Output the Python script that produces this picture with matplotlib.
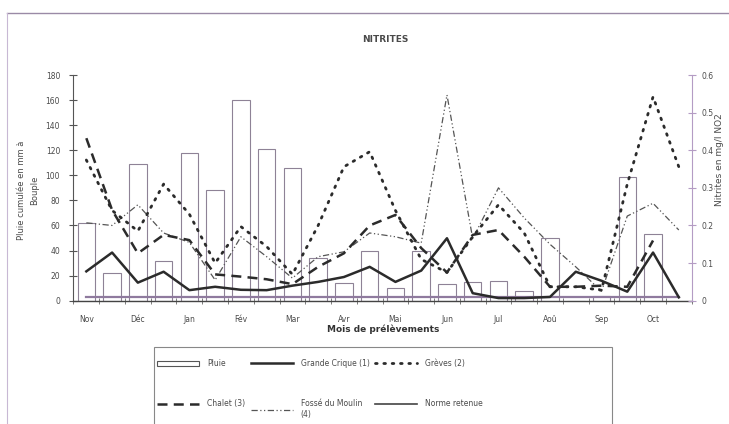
import numpy as np
import matplotlib.pyplot as plt
from matplotlib.lines import Line2D
from matplotlib.patches import Patch, Rectangle

TEXT = "#4a4a4a"
DARK = "#2b2b2b"
BAR_EDGE = "#8e8296"
PURPLE = "#b49cc4"

# two samplings per month, Nov -> Oct
months = ["Nov", "Déc", "Jan", "Fév", "Mar", "Avr", "Mai", "Jun", "Jul", "Aoû", "Sep", "Oct"]
pluie = [62, 22, 109, 32, 118, 88, 160, 121, 106, 34, 14, 40,
         10, 40, 13, 15, 16, 8, 50, 0, 4, 99, 53, 0]
grande_crique = [0.078, 0.128, 0.048, 0.077, 0.028, 0.037, 0.029, 0.028, 0.04, 0.05, 0.063, 0.09,
                 0.05, 0.08, 0.166, 0.02, 0.007, 0.007, 0.01, 0.077, 0.053, 0.024, 0.128, 0.009]
greves = [0.374, 0.24, 0.185, 0.31, 0.23, 0.1, 0.197, 0.144, 0.07, 0.2, 0.356, 0.396,
          0.24, 0.11, 0.075, 0.17, 0.255, 0.18, 0.037, 0.037, 0.028, 0.31, 0.542, 0.356]
chalet = [0.432, 0.241, 0.126, 0.175, 0.161, 0.07, 0.064, 0.057, 0.044, 0.09, 0.126, 0.2,
          0.228, 0.14, 0.075, 0.175, 0.188, 0.117, 0.037, 0.037, 0.04, 0.037, 0.16, np.nan]
fosse = [0.207, 0.2, 0.255, 0.18, 0.155, 0.055, 0.17, 0.117, 0.06, 0.117, 0.13, 0.18,
         0.17, 0.153, 0.547, 0.165, 0.30, 0.22, 0.15, 0.09, 0.025, 0.225, 0.259, 0.188]
norme_retenue = 0.01

fig = plt.figure(figsize=(7.29, 4.24), dpi=100)
ax = fig.add_axes([0.0997, 0.2908, 0.8491, 0.5323])
ax2 = ax.twinx()

x = np.arange(len(pluie))
ax.bar(x, pluie, width=0.68, facecolor="white", edgecolor=BAR_EDGE, linewidth=0.8)

ax2.plot(x, np.full(len(x), norme_retenue), color="#8f7a9e", lw=1.6)
ax2.plot(x, fosse, color="#555555", lw=0.9, linestyle=(0, (5, 2, 1, 2, 1, 2)))
ax2.plot(x, chalet, color=DARK, lw=1.8, linestyle=(0, (4, 2.5)))
ax2.plot(x, greves, color=DARK, lw=2.0, linestyle=(0, (0.6, 2.4)), dash_capstyle="round")
ax2.plot(x, grande_crique, color=DARK, lw=1.8)

ax.set_xlim(-0.53, 23.46)
ax.set_ylim(0, 180)
ax.set_yticks(np.arange(0, 181, 20))
ax2.set_ylim(0, 0.6)
ax2.set_yticks(np.arange(0, 0.61, 0.1))
ax2.set_yticklabels(["0", "0.1", "0.2", "0.3", "0.4", "0.5", "0.6"])

ax.set_xticks(x[::2])
ax.set_xticklabels(months)
ax.set_xticks(np.arange(-0.5, 24, 1), minor=True)
ax.tick_params(axis="x", which="major", length=0, pad=10, labelsize=5.5, labelcolor=TEXT)
ax.tick_params(axis="x", which="minor", direction="inout", length=5, width=0.6, color="#666666")
ax.tick_params(axis="y", direction="inout", length=6, width=0.8, color="#555555",
               labelsize=5.5, labelcolor=TEXT, pad=6)
ax2.tick_params(axis="y", direction="inout", length=6, width=0.8, color=PURPLE,
                labelsize=5.5, labelcolor=TEXT, pad=4)

for s in ["top", "right"]:
    ax.spines[s].set_visible(False)
for s in ["top", "left", "bottom"]:
    ax2.spines[s].set_visible(False)
ax.spines["left"].set_color("#555555")
ax.spines["left"].set_linewidth(0.8)
ax.spines["bottom"].set_color("#444444")
ax.spines["bottom"].set_linewidth(1.0)
ax2.spines["right"].set_color(PURPLE)
ax2.spines["right"].set_linewidth(0.8)

fig.text(385 / 729, 1 - 40 / 424, "NITRITES", ha="center", va="center",
         fontsize=6.5, fontweight="bold", color=TEXT)
fig.text(383 / 729, 1 - 329 / 424, "Mois de prélèvements", ha="center", va="center",
         fontsize=6.5, fontweight="bold", color="#333333")
fig.text(28 / 729, 1 - 190 / 424, "Pluie cumulée en mm à\nBouple", rotation=90,
         ha="center", va="center", fontsize=6, color=TEXT, linespacing=1.6, multialignment="center")
fig.text(720 / 729, 1 - 160 / 424, "Nitrites en mg/l NO2", rotation=90,
         ha="center", va="center", fontsize=6.5, color=TEXT)

# frame of the scanned page
fig.add_artist(Line2D([7 / 729, 1], [1 - 13 / 424] * 2, transform=fig.transFigure,
                      color="#9a8aa6", lw=1.0))
fig.add_artist(Line2D([7 / 729] * 2, [1 - 13 / 424, 0], transform=fig.transFigure,
                      color="#c8b8d4", lw=0.8))

# legend box, runs off the bottom of the page
fig.add_artist(Rectangle((154 / 729, -0.05), (612 - 154) / 729, 1 - 347 / 424 + 0.05,
                         transform=fig.transFigure, facecolor="white", edgecolor="#888888",
                         linewidth=0.8))

handles = [
    Patch(facecolor="white", edgecolor="#555555", linewidth=0.8),
    Line2D([], [], color=DARK, lw=1.8, linestyle=(0, (4, 2.5))),
    Line2D([], [], color=DARK, lw=1.8),
    Line2D([], [], color="#555555", lw=0.9, linestyle=(0, (5, 2, 1, 2, 1, 2))),
    Line2D([], [], color=DARK, lw=2.0, linestyle=(0, (0.6, 2.4)), dash_capstyle="round"),
    Line2D([], [], color="#444444", lw=1.2),
]
labels = ["Pluie", "Chalet (3)", "Grande Crique (1)", "Fossé du Moulin\n(4)",
          "Grèves (2)", "Norme retenue"]
leg = fig.legend(handles, labels, loc="upper left", bbox_to_anchor=(157 / 729, 1 - 359 / 424),
                 ncol=3, fontsize=5.5, frameon=False, handlelength=5.5,
                 handletextpad=1.05, columnspacing=0.7, labelspacing=4.1, borderpad=0,
                 labelcolor=TEXT, borderaxespad=0)

fig.savefig("out.png", dpi=100)
